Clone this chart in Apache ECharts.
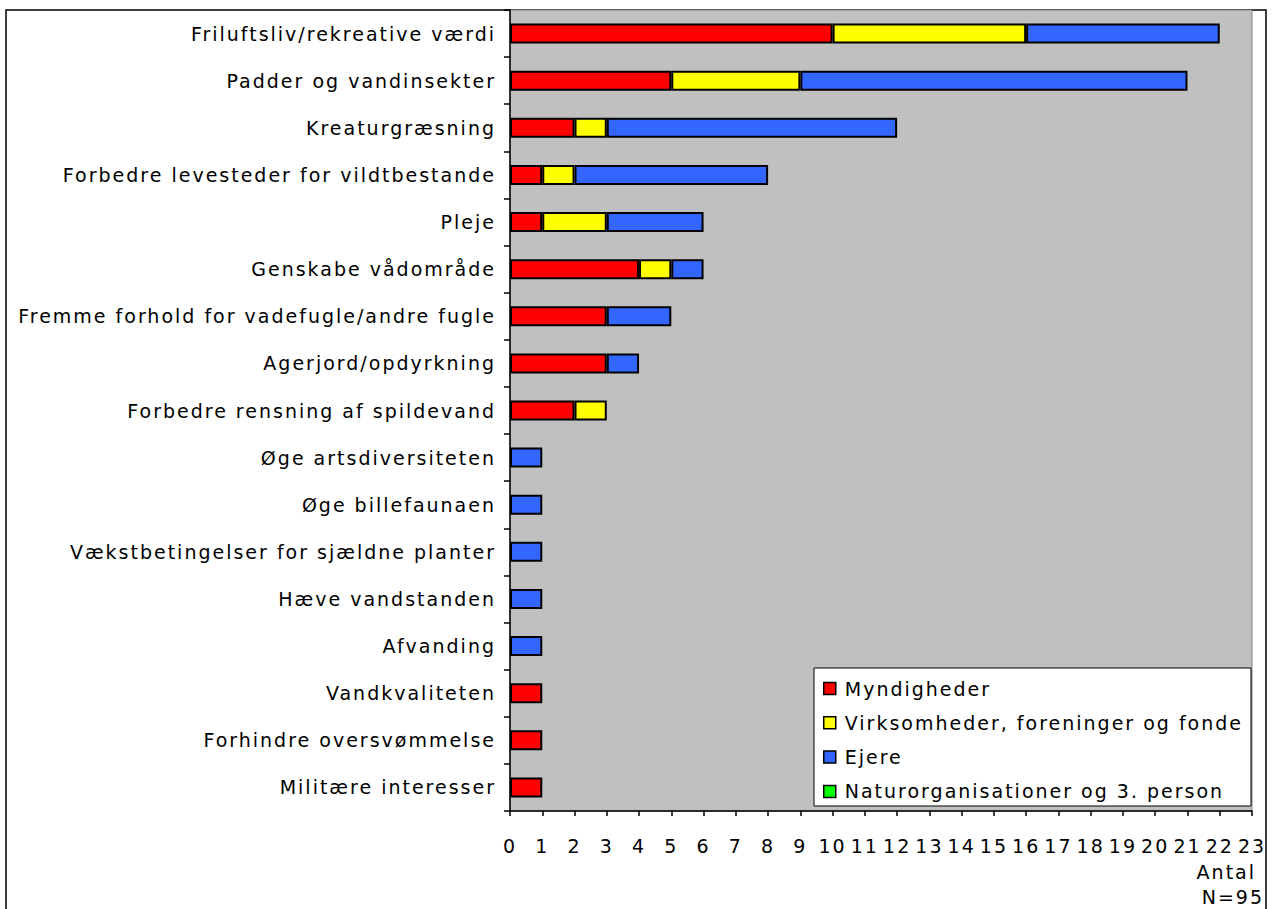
<!DOCTYPE html>
<html><head><meta charset="utf-8">
<script src="https://cdn.jsdelivr.net/npm/echarts@6/dist/echarts.min.js"></script>
<style>html,body{margin:0;padding:0;background:#fff}#c{width:1272px;height:909px}
#c svg text{letter-spacing:2px !important;}</style>
</head><body><div id="c"></div>
<script>
var categories = ["Friluftsliv/rekreative værdi","Padder og vandinsekter","Kreaturgræsning","Forbedre levesteder for vildtbestande","Pleje","Genskabe vådområde","Fremme forhold for vadefugle/andre fugle","Agerjord/opdyrkning","Forbedre rensning af spildevand","Øge artsdiversiteten","Øge billefaunaen","Vækstbetingelser for sjældne planter","Hæve vandstanden","Afvanding","Vandkvaliteten","Forhindre oversvømmelse","Militære interesser"];
var myndigheder = [10,5,2,1,1,4,3,3,2,0,0,0,0,0,1,1,1];
var virksomheder = [6,4,1,1,2,1,0,0,1,0,0,0,0,0,0,0,0];
var ejere = [6,12,9,6,3,1,2,1,0,1,1,1,1,1,0,0,0];
var naturorg = [0,0,0,0,0,0,0,0,0,0,0,0,0,0,0,0,0];
var seriesNames = ["Myndigheder","Virksomheder, foreninger og fonde","Ejere","Naturorganisationer og 3. person"];
var colors = ["#FF0000","#FFFF00","#3366FF","#00FF00"];
var xTicks = [0,1,2,3,4,5,6,7,8,9,10,11,12,13,14,15,16,17,18,19,20,21,22,23];

var font = "DejaVu Sans";
var chart = echarts.init(document.getElementById('c'), null, {renderer:'svg'});
var dataSets = [myndigheder, virksomheder, ejere, naturorg];
var series = dataSets.map(function(d,i){
  return {
    name: seriesNames[i], type:'bar', stack:'a', barWidth:20,
    data: d.map(function(v){ return v===0 ? null : v; }),
    itemStyle:{color:colors[i], borderColor:'#000', borderWidth:2},
    emphasis:{disabled:true}
  };
});
chart.setOption({
  animation:false,
  textStyle:{fontFamily:font},
  grid:{left:510,right:20,top:10,bottom:98,show:true,backgroundColor:'#C0C0C0',borderColor:'#808080',borderWidth:1},
  xAxis:{type:'value',min:xTicks[0],max:xTicks[xTicks.length-1],interval:1,
    axisLine:{show:true,lineStyle:{color:'#000',width:1.5}},
    axisTick:{show:true,length:5,lineStyle:{color:'#000',width:1.5}},
    axisLabel:{color:'#000',fontSize:19,fontFamily:font,margin:25},
    splitLine:{show:false}},
  yAxis:{type:'category',data:categories,inverse:true,
    axisLine:{show:true,lineStyle:{color:'#000',width:1.5}},
    axisTick:{show:true,length:6,lineStyle:{color:'#000',width:1.5}},
    axisLabel:{color:'#000',fontSize:19,fontFamily:font,margin:14}},
  legend:{orient:'vertical',left:814,top:668,
    padding:[11,10,8,9],itemGap:15.3,itemWidth:12,itemHeight:12,icon:'rect',
    itemStyle:{borderColor:'#000',borderWidth:1.5},
    textStyle:{color:'#000',fontSize:19,fontFamily:font,padding:[0,0,0,4]},
    data:seriesNames},
  graphic:[
    {type:'rect',shape:{x:6,y:10,width:1260,height:920},style:{fill:'none',stroke:'#000',lineWidth:1.5},z:-1,silent:true},
    {type:'rect',shape:{x:814,y:668,width:437,height:138},style:{fill:'#fff',stroke:'#000',lineWidth:1},z:3,silent:true},
    {type:'text',right:26,top:862,style:{text:'Antal',fontSize:19,fontFamily:font,fill:'#000',align:'right'}},
    {type:'text',right:16,top:887,style:{text:'N=95',fontSize:19,fontFamily:font,fill:'#000',align:'right'}}
  ],
  series:series
});
</script></body></html>
